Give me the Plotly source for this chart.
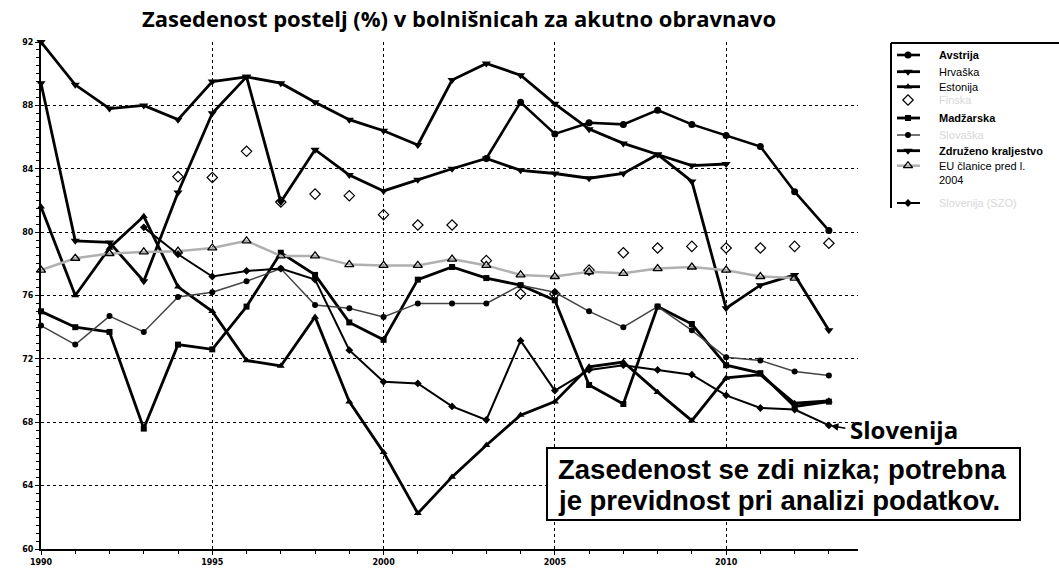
import plotly.graph_objects as go

W, H = 1059, 568

years = list(range(1990, 2014))
N = None

# ---- data ----
zdruzeno = [92.0, 89.3, 87.8, 88.0, 87.1, 89.5, 89.8, 89.4, 88.2, 87.1, 86.4, 85.5,
            89.6, 90.65, 89.9, 88.1, 86.5, 85.6, 84.9, 84.2, 84.3, N, N, N]
hrvaska = [89.4, 79.45, 79.35, 76.9, 82.5, 87.5, 89.8, 81.9, 85.2, 83.6, 82.6, 83.3,
           84.0, 84.65, 83.9, 83.7, 83.4, 83.7, 84.9, 83.2, 75.2, 76.65, 77.3, 73.8]
avstrija = [N, N, N, N, N, N, N, N, N, N, N, N,
            N, 84.65, 88.2, 86.2, 86.9, 86.8, 87.7, 86.8, 86.1, 85.4, 82.55, 80.1]
estonija = [81.6, 76.0, 79.0, 81.0, 76.55, 75.0, 71.9, 71.55, 74.65, 69.3, 66.1, 62.25,
            64.55, 66.55, 68.45, 69.3, 71.5, 71.8, 69.9, 68.1, 70.8, 71.0, 69.2, 69.35]
finska = [N, N, N, N, 83.5, 83.45, 85.1, 81.9, 82.4, 82.3, 81.1, 80.45,
          80.45, 78.2, 76.1, 76.1, 77.6, 78.7, 79.0, 79.1, 79.0, 79.0, 79.1, 79.3]
madzarska = [75.0, 74.0, 73.7, 67.6, 72.9, 72.6, 75.3, 78.7, 77.3, 74.3, 73.2, 77.0,
             77.8, 77.1, 76.65, 75.7, 70.35, 69.15, 75.3, 74.2, 71.6, 71.1, 69.0, 69.3]
slovaska = [74.1, 72.9, 74.7, 73.7, 75.9, 76.2, 76.9, 77.7, 75.4, 75.2, 74.65, 75.5,
            75.5, 75.5, 76.65, 76.2, 75.0, 74.0, 75.3, 73.8, 72.1, 71.9, 71.2, 70.95]
eu15 = [77.6, 78.35, 78.65, 78.75, 78.8, 79.0, 79.45, 78.5, 78.5, 77.95, 77.9, 77.9,
        78.3, 77.9, 77.3, 77.2, 77.5, 77.4, 77.7, 77.8, 77.6, 77.2, 77.1, N]
slovenija = [N, N, N, 80.3, 78.6, 77.2, 77.55, 77.7, 77.0, 72.55, 70.55, 70.45,
             69.0, 68.15, 73.15, 70.0, 71.3, 71.6, 71.3, 71.0, 69.7, 68.9, 68.8, 67.8]

xticks = [1990, 1995, 2000, 2005, 2010]
xtick_text = ["1990", "1995", "2000", "2005", "2010"]
yticks = [60, 64, 68, 72, 76, 80, 84, 88, 92]
ytick_text = [str(v) for v in yticks]

legend_names = ["<b>Avstrija</b>", "Hrvaška", "Estonija", "Finska", "<b>Madžarska</b>",
                "Slovaška", "<b>Združeno kraljestvo</b>", "EU članice pred l.<br>2004",
                "Slovenija (SZO)"]
faded = [False, False, False, True, False, True, False, False, True]

title_text = "Zasedenost postelj (%) v bolnišnicah za akutno obravnavo"
note_lines = ["Zasedenost se zdi nizka; potrebna", "je previdnost pri analizi podatkov."]

# ---- styles ----
series = [
    (avstrija, dict(mode="lines+markers", line=dict(color="black", width=2.6),
                    marker=dict(symbol="circle", size=7, color="black"))),
    (hrvaska, dict(mode="lines+markers", line=dict(color="black", width=2.8),
                   marker=dict(symbol="triangle-down", size=8, color="black"))),
    (estonija, dict(mode="lines+markers", line=dict(color="black", width=2.8),
                    marker=dict(symbol="triangle-up", size=7, color="black"))),
    (finska, dict(mode="markers",
                  marker=dict(symbol="diamond-open", size=8, color="black", line=dict(width=1.2)))),
    (madzarska, dict(mode="lines+markers", line=dict(color="black", width=2.8),
                     marker=dict(symbol="square", size=6, color="black"))),
    (slovaska, dict(mode="lines+markers", line=dict(color="#444444", width=1.5),
                    marker=dict(symbol="circle", size=6, color="black"))),
    (zdruzeno, dict(mode="lines+markers", line=dict(color="black", width=2.8),
                    marker=dict(symbol="triangle-down", size=8, color="black"))),
    (eu15, dict(mode="lines+markers", line=dict(color="#b0b0b0", width=2.5),
                marker=dict(symbol="triangle-up-open", size=8, color="black", line=dict(width=1.3)))),
    (slovenija, dict(mode="lines+markers", line=dict(color="black", width=2.0),
                     marker=dict(symbol="diamond", size=6, color="black"))),
]

# plot area in pixels
PL, PR, PT, PB = 41, 858, 42, 549
# legend key area in pixels
LX0, LX1, LY0, LY1 = 885, 935, 40, 215


def xp(px):
    return px / W


def yp(py):
    return 1 - py / H


fig = go.Figure()
for vals, st in series:
    fig.add_trace(go.Scatter(x=years, y=vals, showlegend=False, hoverinfo="skip",
                             connectgaps=False, cliponaxis=False, **st))

# legend keys on a separate small pixel-space axis pair (in the right margin)
leg_rows = [55, 71.7, 86.7, 100, 118, 135, 150.7, 165.7, 203]
for (vals, st), row in zip(series, leg_rows):
    if st["mode"] == "markers":
        fig.add_trace(go.Scatter(x=[908], y=[row], xaxis="x2", yaxis="y2", showlegend=False,
                                 hoverinfo="skip", cliponaxis=False, **st))
    else:
        fig.add_trace(go.Scatter(x=[897, 920], y=[row, row], xaxis="x2", yaxis="y2",
                                 showlegend=False, hoverinfo="skip", cliponaxis=False,
                                 mode="lines", line=st["line"]))
        fig.add_trace(go.Scatter(x=[908], y=[row], xaxis="x2", yaxis="y2",
                                 showlegend=False, hoverinfo="skip", cliponaxis=False,
                                 mode="markers", marker=st["marker"]))

annotations = []
for name, row, fd in zip(legend_names, leg_rows, faded):
    annotations.append(dict(x=xp(937), y=yp(row), xref="paper", yref="paper", text=name,
                            showarrow=False, xanchor="left", yanchor="middle", align="left",
                            font=dict(family="Liberation Sans, Arial", size=11,
                                      color="#d8d8d8" if fd else "black")))
annotations[7]["yanchor"] = "top"
annotations[7]["y"] = yp(158)

annotations.append(dict(x=xp(459), y=yp(18), xref="paper", yref="paper", text="<b>" + title_text + "</b>",
                        showarrow=False, xanchor="center", yanchor="middle",
                        font=dict(family="Open Sans", size=22, color="black")))
annotations.append(dict(x=xp(848), y=yp(429), xref="paper", yref="paper", text="<b>Slovenija</b>",
                        showarrow=False, xanchor="left", yanchor="middle",
                        font=dict(family="Open Sans", size=24, color="black")))
annotations.append(dict(x=2013, y=slovenija[-1], xref="x", yref="y", text="", showarrow=True,
                        ax=18, ay=3, arrowhead=2, arrowsize=1,
                        arrowwidth=1.5, arrowcolor="black", standoff=2))
annotations.append(dict(x=xp(556), y=yp(469), xref="paper", yref="paper", text="<b>" + note_lines[0] + "</b>",
                        showarrow=False, xanchor="left", yanchor="middle",
                        font=dict(family="Liberation Sans, Arial", size=27.5, color="black")))
annotations.append(dict(x=xp(556), y=yp(500), xref="paper", yref="paper", text="<b>" + note_lines[1] + "</b>",
                        showarrow=False, xanchor="left", yanchor="middle",
                        font=dict(family="Liberation Sans, Arial", size=27.5, color="black")))

shapes = [
    dict(type="rect", xref="paper", yref="paper", x0=xp(547), x1=xp(1020), y0=yp(448), y1=yp(520),
         line=dict(color="black", width=2), fillcolor="white", layer="above"),
    dict(type="line", xref="paper", yref="paper", x0=xp(891), x1=xp(1059), y0=yp(43), y1=yp(43),
         line=dict(color="black", width=2)),
    dict(type="line", xref="paper", yref="paper", x0=xp(891), x1=xp(891), y0=yp(43), y1=yp(208),
         line=dict(color="black", width=2)),
]

axis_font = dict(family="DejaVu Sans", size=8, color="black", weight="bold")

fig.update_layout(
    width=W, height=H,
    margin=dict(l=0, r=0, t=0, b=0, autoexpand=False),
    paper_bgcolor="white", plot_bgcolor="white",
    showlegend=False,
    xaxis=dict(domain=[xp(PL), xp(PR)], range=[1990, 2013.85], tickvals=xticks, ticktext=xtick_text,
               showgrid=True, gridcolor="black", griddash="dot", gridwidth=1,
               showline=True, linecolor="black", linewidth=2, zeroline=False,
               ticks="outside", ticklen=4, tickcolor="black", tickfont=axis_font,
               automargin=False, anchor="y",
               minor=dict(dtick=1, ticks="outside", ticklen=3, tickcolor="black", showgrid=False)),
    yaxis=dict(domain=[yp(PB), yp(PT)], range=[60, 92], tickvals=yticks, ticktext=ytick_text,
               showgrid=True, gridcolor="black", griddash="dot", gridwidth=1,
               showline=True, linecolor="black", linewidth=2, zeroline=False,
               ticks="outside", ticklen=4, tickcolor="black", tickfont=axis_font,
               automargin=False, anchor="x",
               minor=dict(dtick=0.5, ticks="outside", ticklen=3, tickcolor="black", showgrid=False)),
    xaxis2=dict(domain=[xp(LX0), xp(LX1)], range=[LX0, LX1], visible=False, anchor="y2",
                fixedrange=True),
    yaxis2=dict(domain=[yp(LY1), yp(LY0)], range=[LY1, LY0], visible=False, anchor="x2",
                fixedrange=True),
    annotations=annotations,
    shapes=shapes,
)

fig.write_html("out.html", config={"displayModeBar": False, "staticPlot": True},
               post_script="document.body.style.margin='0';document.body.style.overflow='hidden';")
